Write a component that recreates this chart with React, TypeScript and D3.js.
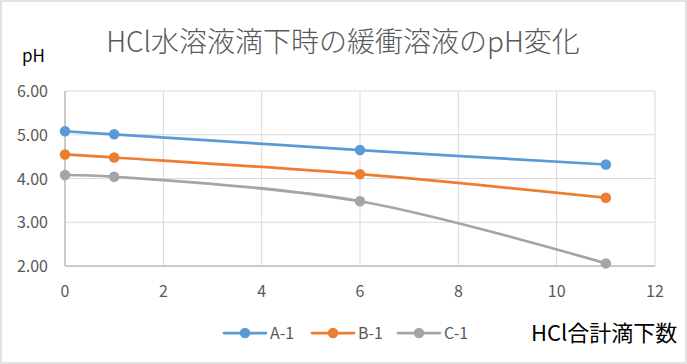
import React from "react";
import * as d3 from "d3";

const seriesNames = ["A-1", "B-1", "C-1"];
const seriesColors = ["#5b9bd5", "#ed7d31", "#a5a5a5"];
const drops = [0, 1, 6, 11];
const phA = [5.08, 5.01, 4.65, 4.32];
const phB = [4.55, 4.48, 4.1, 3.56];
const phC = [4.08, 4.04, 3.48, 2.06];
const xTicks = [0, 2, 4, 6, 8, 10, 12];
const yTicks = [2, 3, 4, 5, 6];

const W = 687;
const H = 364;
const font = "'Noto Sans CJK JP', 'Noto Sans', sans-serif";

export default function App() {
  const x = d3.scaleLinear().domain([0, 12]).range([65, 655]);
  const y = d3.scaleLinear().domain([2, 6]).range([266, 91]);
  const allSeries = [phA, phB, phC];
  const line = d3
    .line<number>()
    .x((_, i) => x(drops[i]))
    .y((d) => y(d))
    .curve(d3.curveCatmullRom.alpha(0.5));

  // legend entry left edges
  const legendX = [224, 312, 398];

  return (
    <svg
      width={W}
      height={H}
      style={{ position: "absolute", left: 0, top: 0, fontFamily: font }}
    >
      <rect x={1} y={1} width={W - 2} height={H - 2} fill="#fff" stroke="#d9d9d9" strokeWidth={1.5} />
      <text x={343} y={52} textAnchor="middle" fontSize={28} fontWeight={300} fill="#595959">
        HCl水溶液滴下時の緩衝溶液のpH変化
      </text>
      <text x={22} y={62} fontSize={17} fill="#000">
        pH
      </text>

      {xTicks.map((t) => (
        <line key={"gx" + t} x1={x(t)} x2={x(t)} y1={y(6)} y2={y(2)} stroke="#d9d9d9" strokeWidth={1} />
      ))}
      {yTicks.map((t) => (
        <line key={"gy" + t} x1={x(0)} x2={x(12)} y1={y(t)} y2={y(t)} stroke="#d9d9d9" strokeWidth={1} />
      ))}
      <line x1={x(0)} x2={x(12)} y1={y(2)} y2={y(2)} stroke="#bfbfbf" strokeWidth={1.5} />
      <line x1={x(0)} x2={x(0)} y1={y(6)} y2={y(2)} stroke="#bfbfbf" strokeWidth={1.5} />

      {yTicks.map((t) => (
        <text key={"ly" + t} x={48} y={y(t) + 6} textAnchor="end" fontSize={16} fill="#595959">
          {t.toFixed(2)}
        </text>
      ))}
      {xTicks.map((t) => (
        <text key={"lx" + t} x={x(t)} y={297} textAnchor="middle" fontSize={16} fill="#595959">
          {t}
        </text>
      ))}

      {allSeries.map((s, si) => (
        <g key={seriesNames[si]}>
          <path d={line(s) ?? ""} fill="none" stroke={seriesColors[si]} strokeWidth={2.75} strokeLinecap="round" />
          {s.map((v, i) => (
            <circle key={i} cx={x(drops[i])} cy={y(v)} r={5.25} fill={seriesColors[si]} />
          ))}
        </g>
      ))}

      {seriesNames.map((n, i) => (
        <g key={"leg" + n} transform={`translate(${legendX[i]},333)`}>
          <line x1={0} x2={42} y1={0} y2={0} stroke={seriesColors[i]} strokeWidth={2.75} strokeLinecap="round" />
          <circle cx={21} cy={0} r={5.25} fill={seriesColors[i]} />
          <text x={46} y={6} fontSize={16} fill="#595959">
            {n}
          </text>
        </g>
      ))}
      <text x={531} y={341} fontSize={22} fill="#000">
        HCl合計滴下数
      </text>
    </svg>
  );
}
